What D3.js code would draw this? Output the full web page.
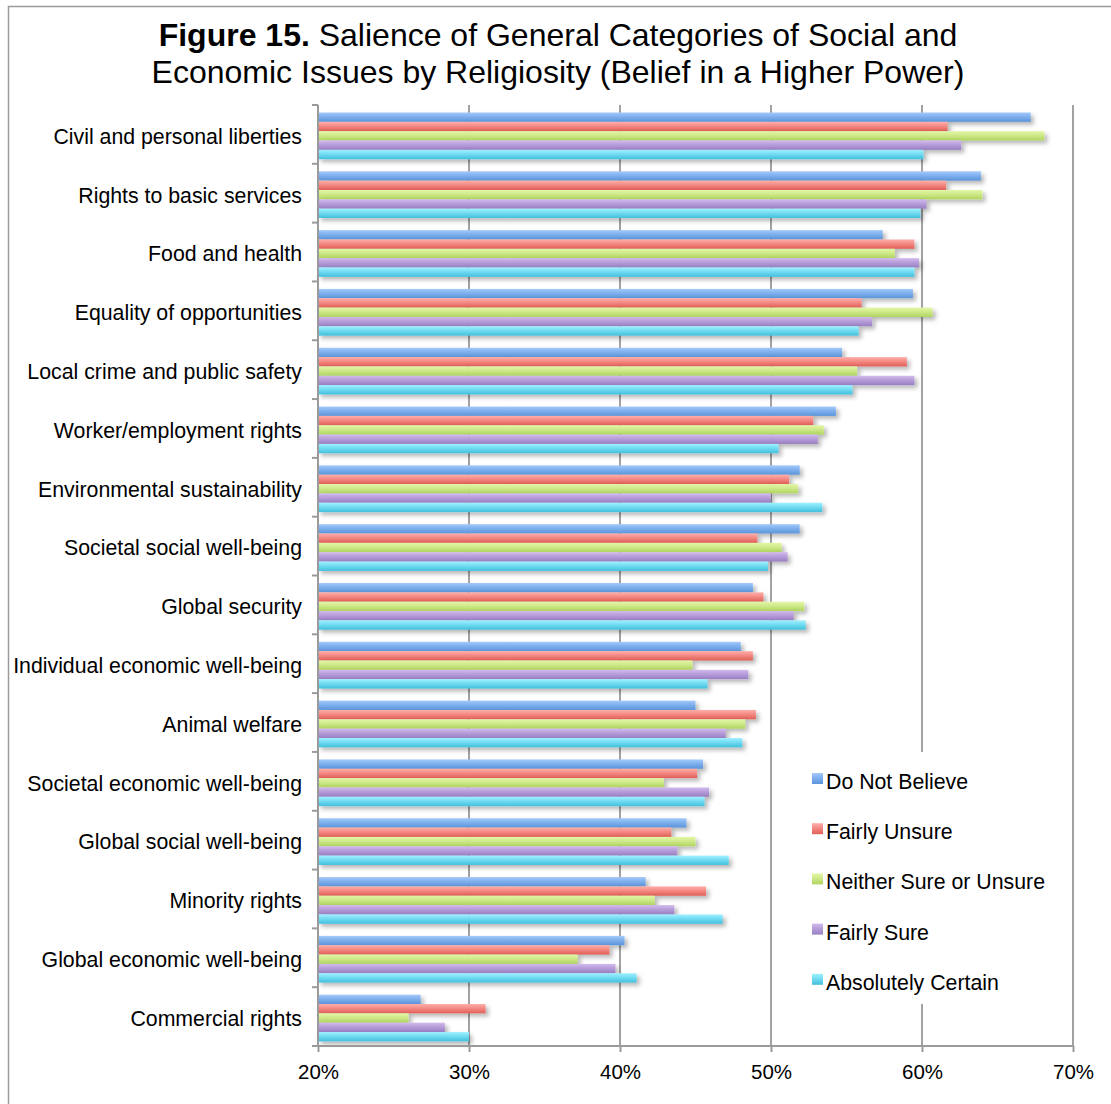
<!DOCTYPE html>
<html>
<head>
<meta charset="utf-8">
<script src="https://cdn.jsdelivr.net/npm/d3@7"></script>
<style>
  html, body { margin: 0; padding: 0; background: #fff; }
  svg { display: block; font-family: "Liberation Sans", Arial, Helvetica, sans-serif; }
</style>
</head>
<body>
<svg id="chart" width="1111" height="1104"></svg>
<script>
// Issue categories, top to bottom
const categories = [
  "Civil and personal liberties",
  "Rights to basic services",
  "Food and health",
  "Equality of opportunities",
  "Local crime and public safety",
  "Worker/employment rights",
  "Environmental sustainability",
  "Societal social well-being",
  "Global security",
  "Individual economic well-being",
  "Animal welfare",
  "Societal economic well-being",
  "Global social well-being",
  "Minority rights",
  "Global economic well-being",
  "Commercial rights"
];

// Religiosity groups (legend order)
const seriesNames = [
  "Do Not Believe",
  "Fairly Unsure",
  "Neither Sure or Unsure",
  "Fairly Sure",
  "Absolutely Certain"
];

// Percent of respondents, one value per category
const doNotBelieve      = [67.2, 63.9, 57.4, 59.4, 54.7, 54.3, 51.9, 51.9, 48.8, 48.0, 45.0, 45.5, 44.4, 41.7, 40.3, 26.8];
const fairlyUnsure      = [61.7, 61.6, 59.5, 56.0, 59.0, 52.8, 51.2, 49.1, 49.5, 48.8, 49.0, 45.1, 43.4, 45.7, 39.3, 31.1];
const neitherSure       = [68.1, 64.0, 58.2, 60.7, 55.7, 53.5, 51.8, 50.7, 52.2, 44.8, 48.3, 42.9, 45.0, 42.3, 37.2, 26.0];
const fairlySure        = [62.6, 60.3, 59.8, 56.7, 59.5, 53.1, 50.0, 51.1, 51.5, 48.5, 47.0, 45.9, 43.8, 43.6, 39.7, 28.4];
const absolutelyCertain = [60.1, 59.9, 59.5, 55.8, 55.4, 50.5, 53.4, 49.8, 52.3, 45.8, 48.1, 45.6, 47.2, 46.8, 41.1, 30.0];

const seriesValues = [doNotBelieve, fairlyUnsure, neitherSure, fairlySure, absolutelyCertain];

const xTicks = [20, 30, 40, 50, 60, 70];

// Gradient stops per series: light top, darker bottom
const seriesColors = [
  { top: "#a3c9fa", mid: "#7fb0ee", bot: "#5b95d9" },
  { top: "#ffaeaa", mid: "#f48a84", bot: "#df5f57" },
  { top: "#e2f7a6", mid: "#cfe98a", bot: "#afd45f" },
  { top: "#d2baee", mid: "#b79dd9", bot: "#987fc3" },
  { top: "#a0f1ff", mid: "#72dcf2", bot: "#43bfdc" }
];

const FONT = "'Liberation Sans', Arial, Helvetica, sans-serif";

const svg = d3.select("#chart");
const defs = svg.append("defs");

seriesColors.forEach((c, i) => {
  const g = defs.append("linearGradient")
    .attr("id", "grad" + i)
    .attr("x1", 0).attr("y1", 0).attr("x2", 0).attr("y2", 1);
  g.append("stop").attr("offset", "0%").attr("stop-color", c.top);
  g.append("stop").attr("offset", "45%").attr("stop-color", c.mid);
  g.append("stop").attr("offset", "100%").attr("stop-color", c.bot);
});

const shadow = defs.append("filter").attr("id", "shadow")
  .attr("x", "-5%").attr("y", "-50%").attr("width", "115%").attr("height", "250%");
shadow.append("feDropShadow")
  .attr("dx", 3).attr("dy", 3).attr("stdDeviation", 2.2)
  .attr("flood-color", "#000").attr("flood-opacity", 0.28);

// Outer frame
svg.append("path")
  .attr("d", "M8.5,1104 L8.5,6.5 L1111,6.5")
  .attr("fill", "none").attr("stroke", "#9a9a9a").attr("stroke-width", 1.5);

// Title
const title = svg.append("text")
  .attr("text-anchor", "middle")
  .attr("font-size", 32)
  .attr("fill", "#000");
const t1 = title.append("tspan").attr("x", 558).attr("y", 46);
t1.append("tspan").attr("font-weight", "bold").text("Figure 15.");
t1.append("tspan").text(" Salience of General Categories of Social and");
title.append("tspan").attr("x", 558).attr("y", 83)
  .text("Economic Issues by Religiosity (Belief in a Higher Power)");

// Scales
const x = d3.scaleLinear().domain([20, 70]).range([318, 1073]);
const y = d3.scaleBand().domain(categories).range([105, 1046]).padding(0);
const ySub = d3.scaleBand().domain(d3.range(seriesNames.length))
  .range([7.5, y.bandwidth() - 4.6]).padding(0);

const plotTop = 105, plotBottom = 1046;

// Vertical gridlines
svg.append("g")
  .selectAll("line")
  .data(xTicks.slice(1))
  .join("line")
  .attr("x1", d => x(d)).attr("x2", d => x(d))
  .attr("y1", plotTop).attr("y2", plotBottom)
  .attr("stroke", "#a2a2a2").attr("stroke-width", 2);

// Bars
const groups = svg.append("g")
  .selectAll("g")
  .data(categories)
  .join("g")
  .attr("transform", d => `translate(0,${y(d)})`);

groups.selectAll("rect")
  .data((d, ci) => seriesValues.map((vals, si) => ({ si, v: vals[ci] })))
  .join("rect")
  .attr("x", x(20))
  .attr("y", d => ySub(d.si))
  .attr("width", d => x(d.v) - x(20))
  .attr("height", ySub.bandwidth())
  .attr("fill", d => `url(#grad${d.si})`)
  .attr("filter", "url(#shadow)");

// Left category axis
const yAxis = d3.axisLeft(y).tickSize(0).tickPadding(16);
const yg = svg.append("g").attr("transform", `translate(${x(20)},2.5)`).call(yAxis);
yg.select(".domain").remove();
yg.selectAll("text").attr("font-size", 21.3).attr("fill", "#000")
  .attr("font-family", FONT);

// Category boundary ticks
svg.append("g")
  .selectAll("line")
  .data(d3.range(categories.length + 1))
  .join("line")
  .attr("x1", x(20) - 6).attr("x2", x(20))
  .attr("y1", i => plotTop + i * y.step())
  .attr("y2", i => plotTop + i * y.step())
  .attr("stroke", "#9a9a9a").attr("stroke-width", 2);

svg.append("line")
  .attr("x1", x(20)).attr("x2", x(20))
  .attr("y1", plotTop).attr("y2", plotBottom + 1)
  .attr("stroke", "#9a9a9a").attr("stroke-width", 2);

// Bottom value axis
const xAxis = d3.axisBottom(x).tickValues(xTicks)
  .tickFormat(d => d + "%").tickSize(6).tickPadding(12);
const xg = svg.append("g").attr("transform", `translate(0,${plotBottom})`).call(xAxis);
xg.select(".domain").attr("stroke", "#9a9a9a").attr("stroke-width", 2)
  .attr("d", `M${x(20)},0H${x(70)}`);
xg.selectAll(".tick line").attr("stroke", "#9a9a9a").attr("stroke-width", 2);
xg.selectAll("text").attr("font-size", 20.5).attr("fill", "#000")
  .attr("font-family", FONT);

// Legend
const legend = svg.append("g");
legend.append("rect")
  .attr("x", 804).attr("y", 752).attr("width", 256).attr("height", 252)
  .attr("fill", "#fff");
const items = legend.selectAll("g.item")
  .data(seriesNames)
  .join("g").attr("class", "item")
  .attr("transform", (d, i) => `translate(812,${773 + i * 50.2})`);
items.append("rect")
  .attr("width", 11).attr("height", 11)
  .attr("fill", (d, i) => `url(#grad${i})`);
items.append("text")
  .attr("x", 14).attr("y", 16)
  .attr("font-size", 21.3).attr("fill", "#000")
  .text(d => d);
</script>
</body>
</html>
